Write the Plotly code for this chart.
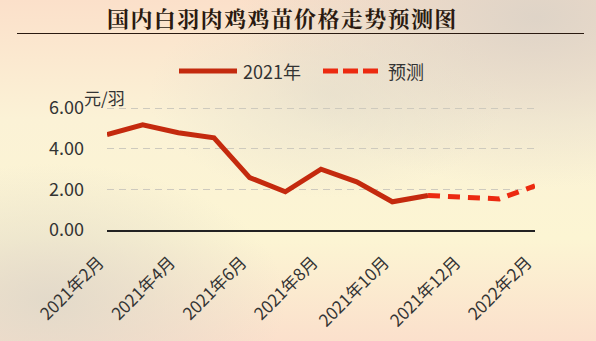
import base64
import plotly.graph_objects as go

months = ["2021年2月", "2021年3月", "2021年4月", "2021年5月", "2021年6月", "2021年7月",
          "2021年8月", "2021年9月", "2021年10月", "2021年11月", "2021年12月",
          "2022年1月", "2022年2月"]
actual_2021 = [4.69, 5.18, 4.79, 4.54, 2.58, 1.88, 2.99, 2.37, 1.39, 1.70, None, None, None]
forecast = [None, None, None, None, None, None, None, None, None, 1.70, 1.60, 1.53, 2.17]
tick_labels = ["2021年2月", "2021年4月", "2021年6月", "2021年8月", "2021年10月", "2021年12月", "2022年2月"]
y_ticks = [0, 2, 4, 6]
series_names = ["2021年", "预测"]
series_colors = ["#C42A0E", "#EC2A10"]
title_text = "国内白羽肉鸡鸡苗价格走势预测图"

W, H = 596, 341
L, R, T, B = 107, 61, 102, 111
pw, ph = W - L - R, H - T - B
Y_MAX = 6.3

def px_x(px):
    return (px - L) / pw

def px_y(py):
    return (H - B - py) / ph

font = "Noto Sans CJK SC, Noto Sans, sans-serif"
DASH = "12px,8px"

fig = go.Figure()
fig.add_trace(go.Scatter(x=months, y=actual_2021, name=series_names[0], mode="lines",
                         line=dict(color=series_colors[0], width=5), showlegend=False))
fig.add_trace(go.Scatter(x=months, y=forecast, name=series_names[1], mode="lines",
                         line=dict(color=series_colors[1], width=5, dash=DASH), showlegend=False))

svg = f"""<svg xmlns='http://www.w3.org/2000/svg' width='{W}' height='{H}'>
<defs>
<linearGradient id='v' x1='0' y1='0' x2='0' y2='1'>
<stop offset='0' stop-color='#FBE0CA'/>
<stop offset='0.35' stop-color='#FBF2D6'/>
<stop offset='0.7' stop-color='#FCF5D3'/>
<stop offset='1' stop-color='#FBE0CC'/>
</linearGradient>
<radialGradient id='a' cx='0.9' cy='0.05' r='0.5'>
<stop offset='0' stop-color='#DDD3C7' stop-opacity='0.95'/>
<stop offset='1' stop-color='#DDD3C7' stop-opacity='0'/>
</radialGradient>
<radialGradient id='b' cx='0.08' cy='0.88' r='0.4'>
<stop offset='0' stop-color='#E0D8C9' stop-opacity='0.9'/>
<stop offset='1' stop-color='#E0D8C9' stop-opacity='0'/>
</radialGradient>
<radialGradient id='c' cx='0.55' cy='0.28' r='0.3'>
<stop offset='0' stop-color='#E2DCCB' stop-opacity='0.6'/>
<stop offset='1' stop-color='#E2DCCB' stop-opacity='0'/>
</radialGradient>
</defs>
<rect width='{W}' height='{H}' fill='url(#v)'/>
<rect width='{W}' height='{H}' fill='url(#a)'/>
<rect width='{W}' height='{H}' fill='url(#b)'/>
<rect width='{W}' height='{H}' fill='url(#c)'/>
</svg>"""
src = "data:image/svg+xml;base64," + base64.b64encode(svg.encode()).decode()

fig.add_layout_image(dict(source=src, xref="paper", yref="paper",
                          x=px_x(0), y=px_y(0), sizex=W / pw, sizey=H / ph,
                          xanchor="left", yanchor="top", sizing="stretch", layer="below"))

# title (slightly letter-spaced) and underline
spaced_title = "\u200a".join(title_text)
fig.add_annotation(text=f"<b>{spaced_title}</b>", xref="paper", yref="paper",
                   x=px_x(281), y=px_y(17), xanchor="center", yanchor="middle",
                   showarrow=False,
                   font=dict(family="Noto Serif CJK SC, Noto Sans CJK SC, serif", size=22, color="#2A1A10"))
fig.add_shape(type="line", xref="paper", yref="paper", x0=px_x(17), x1=px_x(584),
              y0=px_y(33.5), y1=px_y(33.5), line=dict(color="#2A1A10", width=1.2))

# legend (drawn)
leg_y = px_y(71)
fig.add_shape(type="line", xref="paper", yref="paper", x0=px_x(179), x1=px_x(237),
              y0=leg_y, y1=leg_y, line=dict(color=series_colors[0], width=5))
fig.add_annotation(text=series_names[0], xref="paper", yref="paper", x=px_x(241), y=leg_y,
                   xanchor="left", yanchor="middle", showarrow=False,
                   font=dict(family=font, size=18, color="#333333"))
fig.add_shape(type="line", xref="paper", yref="paper", x0=px_x(323), x1=px_x(378),
              y0=leg_y, y1=leg_y, line=dict(color=series_colors[1], width=5, dash="15px,5px"))
fig.add_annotation(text=series_names[1], xref="paper", yref="paper", x=px_x(386), y=leg_y,
                   xanchor="left", yanchor="middle", showarrow=False,
                   font=dict(family=font, size=18, color="#333333"))

# unit label
fig.add_annotation(text="元/羽", xref="paper", yref="paper", x=px_x(82), y=px_y(97),
                   xanchor="left", yanchor="middle", showarrow=False,
                   font=dict(family=font, size=17, color="#333333"))

fig.update_layout(
    width=W, height=H,
    margin=dict(l=L, r=R, t=T, b=B, autoexpand=False),
    paper_bgcolor="#F9F1D3", plot_bgcolor="rgba(0,0,0,0)",
    font=dict(family=font, size=17, color="#333333"),
    showlegend=False,
)
fig.update_xaxes(type="category", range=[0, 12], tickmode="array", tickvals=tick_labels,
                 ticktext=tick_labels, tickangle=-45, showgrid=False, showline=True,
                 linecolor="#222222", linewidth=1.5, ticks="", automargin=False,
                 tickfont=dict(size=17, color="#333333"),
                 ticklabelstandoff=14, ticklabelshift=-8, zeroline=False)
fig.update_yaxes(range=[0, Y_MAX], tickvals=y_ticks, tickformat=".2f", showgrid=True,
                 gridcolor="#CECABE", griddash="7px,5px", gridwidth=1, zeroline=False,
                 showline=False, ticks="", ticklabelstandoff=22, automargin=False,
                 tickfont=dict(size=18, color="#333333"))

fig.write_html("out.html")
